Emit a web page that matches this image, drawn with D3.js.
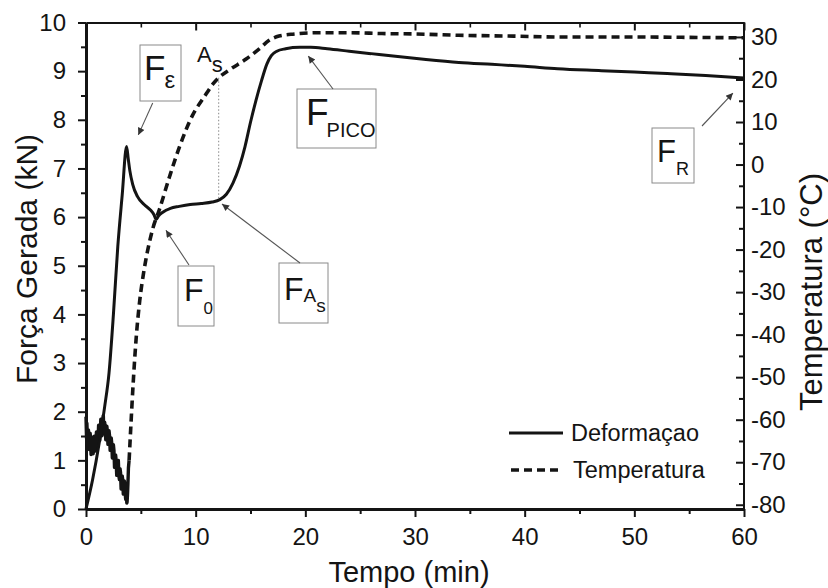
<!DOCTYPE html>
<html>
<head>
<meta charset="utf-8">
<script src="https://cdn.jsdelivr.net/npm/d3@7"></script>
<style>
  body { margin: 0; background: #fff; }
  svg { display: block; font-family: "Liberation Sans", Arial, sans-serif; }
</style>
</head>
<body>
<svg id="chart" width="828" height="588"></svg>
<script>
// Deformação: generated force (kN) against time (min)
const forceTime  = [0, 0.6, 1.2, 1.7, 2.1, 2.5, 2.9, 3.3, 3.7, 3.85, 4.0, 4.25, 4.7, 5.3, 5.9, 6.2, 6.4, 6.6, 7.0, 7.7, 8.5, 9.5, 10.5, 11.5, 12.2, 12.8, 13.4, 14.0, 14.5, 15.0, 15.5, 16.0, 16.5, 16.9, 17.4, 18.2, 19.5, 20.5, 22, 24, 26, 28, 31, 34, 37, 40, 43, 47, 50, 53, 56.5, 60];
const forceValue = [0, 0.6, 1.35, 2.1, 2.8, 4.0, 5.4, 6.45, 7.45, 7.2, 6.95, 6.68, 6.42, 6.26, 6.14, 6.05, 5.95, 6.02, 6.1, 6.18, 6.22, 6.26, 6.28, 6.31, 6.36, 6.47, 6.7, 7.05, 7.45, 7.95, 8.4, 8.8, 9.15, 9.32, 9.41, 9.46, 9.49, 9.49, 9.46, 9.41, 9.36, 9.31, 9.24, 9.18, 9.14, 9.1, 9.05, 9.01, 8.98, 8.95, 8.91, 8.86];

// Temperatura (°C) against time (min); the first part is the noisy cooling record
const tempTime  = [0, 0.03, 0.05, 0.08, 0.1, 0.14, 0.18, 0.22, 0.25, 0.29, 0.33, 0.38, 0.42, 0.46, 0.5, 0.55, 0.6, 0.65, 0.7, 0.75, 0.8, 0.85, 0.9, 0.95, 1.0, 1.05, 1.1, 1.15, 1.2, 1.25, 1.3, 1.35, 1.4, 1.45, 1.5, 1.54, 1.58, 1.62, 1.65, 1.7, 1.75, 1.8, 1.85, 1.9, 1.95, 2.0, 2.05, 2.1, 2.15, 2.2, 2.25, 2.3, 2.35, 2.4, 2.45, 2.5, 2.55, 2.6, 2.65, 2.7, 2.75, 2.8, 2.85, 2.9, 2.95, 3.0, 3.05, 3.1, 3.15, 3.2, 3.25, 3.3, 3.35, 3.4, 3.45, 3.5, 3.55, 3.6, 3.62, 3.66, 3.68, 3.72, 3.75, 3.79, 3.82, 3.87, 3.93,
                   4.1, 4.3, 4.6, 4.9, 5.25, 5.6, 6.1, 6.7, 7.6, 8.5, 9.7, 10.8, 11.6, 12.1, 13.1, 14.6, 15.8, 16.7, 17.6, 19, 21, 24, 27, 30, 34, 39, 43, 50, 55, 60];
const tempValue = [-59.3, -62.5, -64.4, -60.8, -62.1, -66.0, -65.6, -62.4, -63.3, -67.0, -66.1, -63.2, -64.4, -68.2, -67.3, -64.1, -65.0, -68.0, -66.7, -63.9, -65.0, -67.4, -66.1, -62.9, -63.8, -66.2, -64.4, -61.3, -62.1, -64.9, -63.3, -59.9, -60.4, -63.8, -62.7, -60.0, -59.0, -62.5, -63.3, -60.6, -61.6, -64.7, -63.8, -61.5, -62.7, -65.8, -65.0, -62.6, -63.8, -67.2, -66.7, -64.3, -65.6, -69.0, -68.4, -65.9, -67.3, -71.2, -70.7, -68.3, -69.6, -73.1, -72.4, -69.8, -69.6, -73.3, -74.1, -71.5, -72.4, -76.3, -75.9, -73.2, -74.1, -77.5, -77.0, -74.4, -75.3, -78.2, -78.7, -76.1, -77.0, -79.6, -79.3, -77.2, -75.3, -71.3, -69.6,
                   -61, -51.5, -40, -32, -25.5, -20.5, -15, -10.5, -3, 4, 11.5, 16, 19, 20.4, 22.3, 24.8, 27.2, 29.2, 30.2, 30.7, 31, 31, 30.8, 30.7, 30.4, 30.2, 30.0, 30.0, 29.9, 29.8];
const noisyEndTime = 3.93;

// Axis ticks
const xTicks      = [0, 10, 20, 30, 40, 50, 60];
const xMinorTicks = [5, 15, 25, 35, 45, 55];
const yLeftTicks  = [0, 1, 2, 3, 4, 5, 6, 7, 8, 9, 10];
const yLeftMinor  = [0.5, 1.5, 2.5, 3.5, 4.5, 5.5, 6.5, 7.5, 8.5, 9.5];
const yRightTicks = [-80, -70, -60, -50, -40, -30, -20, -10, 0, 10, 20, 30];
const yRightMinor = [-75, -65, -55, -45, -35, -25, -15, -5, 5, 15, 25];

const seriesNames = ["Deformaçao", "Temperatura"];
const xTitle = "Tempo (min)";
const yLeftTitle = "Força Gerada (kN)";
const yRightTitle = "Temperatura (°C)";

// Austenite start marker
const asTime = 12.1;

// Annotated points on the force curve
const annoSub   = ["ε", "0", "As", "PICO", "R"];
const annoTime  = [4.77, 7.29, 12.4, 20.27, 58.99];
const annoForce = [7.69, 5.73, 6.27, 9.31, 8.55];

// ---- layout ----
const L = 86, R = 744, T = 22.5, B = 509;
const svg = d3.select("#chart");
svg.append("rect").attr("width", 828).attr("height", 588).attr("fill", "#fff");

const x  = d3.scaleLinear().domain([0, 60]).range([L, R]);
const yL = d3.scaleLinear().domain([0, 10]).range([B, T]);
const yR = d3.scaleLinear().domain([-81, 33.4]).range([B, T]);

const ink = "#141414";
const fmt = d => String(d);

// ---- axes ----
function styleAxis(g, width) {
  g.selectAll(".domain").attr("stroke", ink).attr("stroke-width", width);
  g.selectAll(".tick line").attr("stroke", ink).attr("stroke-width", 2);
  g.selectAll("text").attr("fill", ink).attr("font-size", 24);
}

// minor ticks drawn with the same axis generators, no labels
function minor(gen, vals, size) {
  return gen.tickValues(vals).tickSize(size).tickSizeOuter(0).tickFormat("");
}

const gx = svg.append("g").attr("transform", `translate(0,${B})`)
  .call(d3.axisBottom(x).tickValues(xTicks).tickSize(8).tickSizeOuter(0).tickPadding(11).tickFormat(fmt));
styleAxis(gx, 3);
svg.append("g").attr("transform", `translate(0,${B})`)
  .call(minor(d3.axisBottom(x), xMinorTicks, 5))
  .call(g => { g.select(".domain").remove(); g.selectAll("line").attr("stroke", ink).attr("stroke-width", 2); });

const gt = svg.append("g").attr("transform", `translate(0,${T})`)
  .call(d3.axisBottom(x).tickValues(xTicks).tickSize(8).tickSizeOuter(0).tickFormat(""));
styleAxis(gt, 2);
svg.append("g").attr("transform", `translate(0,${T})`)
  .call(minor(d3.axisBottom(x), xMinorTicks, 5))
  .call(g => { g.select(".domain").remove(); g.selectAll("line").attr("stroke", ink).attr("stroke-width", 1.6); });

const gyl = svg.append("g").attr("transform", `translate(${L},0)`)
  .call(d3.axisLeft(yL).tickValues(yLeftTicks).tickSize(8).tickSizeOuter(0).tickPadding(12).tickFormat(fmt));
styleAxis(gyl, 3);
svg.append("g").attr("transform", `translate(${L},0)`)
  .call(minor(d3.axisLeft(yL), yLeftMinor, 5))
  .call(g => { g.select(".domain").remove(); g.selectAll("line").attr("stroke", ink).attr("stroke-width", 2); });

const gyr = svg.append("g").attr("transform", `translate(${R},0)`)
  .call(d3.axisRight(yR).tickValues(yRightTicks).tickSize(-8).tickSizeOuter(0).tickPadding(7).tickFormat(fmt));
styleAxis(gyr, 2);
gyr.select(".domain").attr("d", `M0,${B}V${T}`);
svg.append("g").attr("transform", `translate(${R},0)`)
  .call(minor(d3.axisRight(yR), yRightMinor, -5))
  .call(g => { g.select(".domain").remove(); g.selectAll("line").attr("stroke", ink).attr("stroke-width", 2); });

// ---- axis titles ----
svg.append("text").attr("x", 409).attr("y", 582).attr("text-anchor", "middle")
  .attr("font-size", 29).attr("fill", ink).text(xTitle);
svg.append("text").attr("transform", "translate(37,259) rotate(-90)").attr("text-anchor", "middle")
  .attr("font-size", 30).attr("fill", ink).text(yLeftTitle);
svg.append("text").attr("transform", "translate(822,292) rotate(-90)").attr("text-anchor", "middle")
  .attr("font-size", 31).attr("fill", ink).text(yRightTitle);

// ---- series ----
const forceData = forceTime.map((t, i) => ({ t, v: forceValue[i] }));
const tempData  = tempTime.map((t, i) => ({ t, v: tempValue[i] }));

const forceLine = d3.line().x(d => x(d.t)).y(d => yL(d.v)).curve(d3.curveMonotoneX);
const tempNoisy = d3.line().x(d => x(d.t)).y(d => yR(d.v));
const tempLine  = d3.line().x(d => x(d.t)).y(d => yR(d.v)).curve(d3.curveMonotoneX);

// As marker: dotted drop from the temperature curve to the force curve
const tempAt  = d3.scaleLinear().domain(tempTime).range(tempValue);
const forceAt = d3.scaleLinear().domain(forceTime).range(forceValue);
svg.append("line")
  .attr("x1", x(asTime)).attr("x2", x(asTime))
  .attr("y1", yR(tempAt(asTime))).attr("y2", yL(forceAt(asTime)))
  .attr("stroke", "#888").attr("stroke-width", 1).attr("stroke-dasharray", "1.5,2");

svg.append("path").datum(tempData.filter(d => d.t <= noisyEndTime))
  .attr("d", tempNoisy).attr("fill", "none").attr("stroke", ink)
  .attr("stroke-width", 3.4).attr("stroke-linejoin", "round");
svg.append("path").datum(tempData.filter(d => d.t >= noisyEndTime))
  .attr("d", tempLine).attr("fill", "none").attr("stroke", ink)
  .attr("stroke-width", 3.6).attr("stroke-dasharray", "8,5");

svg.append("path").datum(forceData)
  .attr("d", forceLine).attr("fill", "none").attr("stroke", ink)
  .attr("stroke-width", 3).attr("stroke-linejoin", "round");

// As label
const asLabel = svg.append("text").attr("x", 197).attr("y", 62).attr("font-size", 22).attr("fill", ink);
asLabel.append("tspan").text("A");
asLabel.append("tspan").attr("dy", 10).text("s");

// ---- annotation boxes ----
const defs = svg.append("defs");
defs.append("marker").attr("id", "head").attr("viewBox", "0 0 10 10")
  .attr("refX", 10).attr("refY", 5).attr("markerWidth", 10).attr("markerHeight", 7)
  .attr("markerUnits", "userSpaceOnUse").attr("orient", "auto")
  .append("path").attr("d", "M0,0L10,5L0,10Z").attr("fill", "#333");

const boxLayout = [
  { x: 140, y: 45,  w: 41, h: 56, tx: 152.7, ty: 103, fs: 35, fx: 144, fy: 80,  ss: 24, sdx: -1, sdy: 8 },
  { x: 178, y: 266, w: 36, h: 60, tx: 189,   ty: 265, fs: 32, fx: 184, fy: 301, ss: 17, sdx: 0, sdy: 13 },
  { x: 279, y: 263, w: 49, h: 60, tx: 300,   ty: 263, fs: 32, fx: 284, fy: 300, ss: 19, sdx: 0, sdy: 1.5 },
  { x: 297, y: 89,  w: 79, h: 59, tx: 333,   ty: 89,  fs: 37, fx: 306, fy: 125, ss: 20, sdx: -2, sdy: 12 },
  { x: 652, y: 128, w: 42, h: 55, tx: 702,   ty: 126, fs: 31, fx: 657, fy: 162, ss: 18, sdx: 0, sdy: 13 }
];

annoSub.forEach((s, i) => {
  const b = boxLayout[i];
  svg.append("rect").attr("x", b.x).attr("y", b.y).attr("width", b.w).attr("height", b.h)
    .attr("fill", "#fff").attr("stroke", "#8a8a8a").attr("stroke-width", 1);
  svg.append("line").attr("x1", b.tx).attr("y1", b.ty)
    .attr("x2", x(annoTime[i])).attr("y2", yL(annoForce[i]))
    .attr("stroke", "#555").attr("stroke-width", 1.1).attr("marker-end", "url(#head)");
  const label = svg.append("text").attr("x", b.fx).attr("y", b.fy).attr("fill", ink);
  label.append("tspan").attr("font-size", b.fs).text("F");
  if (s === "As") {
    label.append("tspan").attr("font-size", b.ss).attr("dx", b.sdx).attr("dy", b.sdy).text("A");
    label.append("tspan").attr("font-size", b.ss).attr("dy", 10).text("s");
  } else {
    label.append("tspan").attr("font-size", b.ss).attr("dx", b.sdx).attr("dy", b.sdy).text(s);
  }
});

// ---- legend ----
const legend = svg.append("g");
legend.append("line").attr("x1", 509).attr("x2", 563).attr("y1", 433).attr("y2", 433)
  .attr("stroke", ink).attr("stroke-width", 3);
legend.append("line").attr("x1", 511).attr("x2", 563).attr("y1", 470).attr("y2", 470)
  .attr("stroke", ink).attr("stroke-width", 3.6).attr("stroke-dasharray", "8,5");
legend.append("text").attr("x", 571).attr("y", 441).attr("font-size", 23.5).attr("fill", ink).text(seriesNames[0]);
legend.append("text").attr("x", 573).attr("y", 478).attr("font-size", 23.5).attr("fill", ink).text(seriesNames[1]);
</script>
</body>
</html>
